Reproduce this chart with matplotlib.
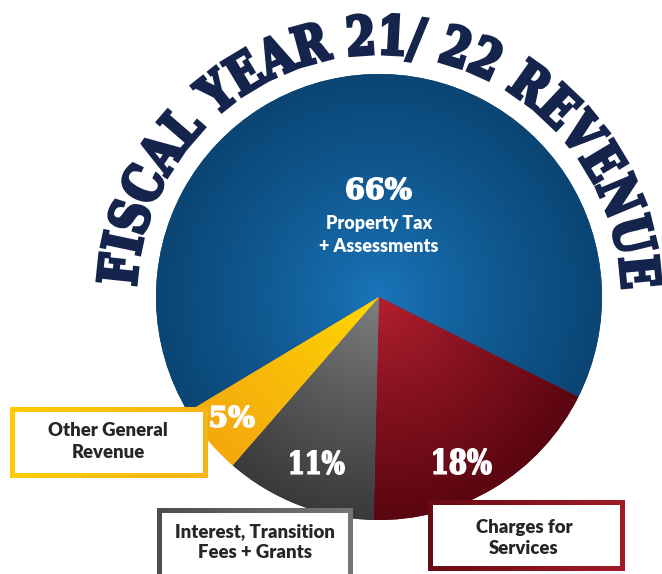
import numpy as np
import matplotlib
matplotlib.use("Agg")
import matplotlib.pyplot as plt
import matplotlib.transforms as mtransforms
from matplotlib.patches import PathPatch, Rectangle
from matplotlib.path import Path
from matplotlib.textpath import TextPath
from matplotlib.font_manager import FontProperties, findfont, get_font
from matplotlib.colors import LinearSegmentedColormap

W, H = 662, 574

###### Data ######
categories = ["Property Tax\n+ Assessments", "Charges for\nServices",
              "Interest, Transition\nFees + Grants", "Other General\nRevenue"]
shares = [66, 18, 11, 5]
pct_labels = [f"{v}%" for v in shares]
title = "FISCAL YEAR 21/ 22 REVENUE"

# slice gradients: light near the centre -> dark at the rim
light = ["#1a76bc", "#b62030", "#828285", "#ffda00"]
dark = ["#0a4574", "#5a0610", "#3a3a3c", "#f4a80e"]
# box border gradients (left -> right)
border = [None, ["#6a0a14", "#a01c28"], ["#4e4e50", "#767678"], ["#ffcc00", "#f7b514"]]

navy = "#15244c"
txt_dark = "#262626"

fig = plt.figure(figsize=(W / 100, H / 100), dpi=100)
ax = fig.add_axes([0, 0, 1, 1])

# pie geometry (pixel space, y up)
cx, cy, R = 379, H - 297, 223
wedges, _ = ax.pie(shares, startangle=211, counterclock=False, center=(cx, cy),
                   radius=R, colors=dark, wedgeprops=dict(linewidth=0))
ax.set_xlim(0, W)
ax.set_ylim(0, H)
ax.axis("off")

# radial gradient fill for each slice
xs = np.linspace(cx - R, cx + R, 500)
ys = np.linspace(cy - R, cy + R, 500)
X, Y = np.meshgrid(xs, ys)
dist = np.clip(np.hypot(X - cx, Y - cy) / R, 0, 1)
for w, c0, c1 in zip(wedges, light, dark):
    cmap = LinearSegmentedColormap.from_list("g", [c0, c1])
    im = ax.imshow(dist ** 0.85, cmap=cmap, vmin=0, vmax=1, origin="lower",
                   extent=(cx - R, cx + R, cy - R, cy + R),
                   interpolation="bilinear", zorder=2, aspect="auto")
    im.set_clip_path(w)


## text drawn as paths, squeezed into a target box
serif = FontProperties(family="DejaVu Serif", weight="bold")

def fit_text(s, xc, yc, w, h, color, z=4, stroke=1.6):
    tp = TextPath((0, 0), s, size=50, prop=serif)
    ext = tp.get_extents()
    # leave room for the stroke so the outer size matches
    tr = (mtransforms.Affine2D()
          .translate(-ext.x0 - ext.width / 2, -ext.y0 - ext.height / 2)
          .scale((w - stroke) / ext.width, (h - stroke) / ext.height)
          .translate(xc, H - yc))
    ax.add_patch(PathPatch(tr.transform_path(tp), fc=color, ec=color,
                           lw=stroke * 0.72, joinstyle="miter", zorder=z))

# percentage labels (centre x, centre y, width, height in pixels)
pct_pos = [(379, 188.5, 66, 23), (462.5, 461.5, 59, 27),
           (317.5, 462.5, 55, 25), (232.5, 416.5, 45, 23)]
for lab, (px, py, pw, ph) in zip(pct_labels, pct_pos):
    fit_text(lab, px, py, pw, ph, "white")

# main slice name inside the blue slice
sans = dict(fontfamily="Lato", fontweight="heavy")
l1, l2 = categories[0].split("\n")
ax.text(379, H - 224, l1, ha="center", va="center", color="white",
        fontsize=13, zorder=4, **sans)
ax.text(379, H - 247, l2, ha="center", va="center", color="white",
        fontsize=13, zorder=4, **sans)


## curved title along an arc
EM = 50
font = get_font(findfont(serif))
font.set_size(EM, 72)
advs = np.array([font.load_char(ord(c)).linearHoriAdvance / 65536 for c in title])
mids = np.cumsum(advs) - advs / 2
cap = TextPath((0, 0), "F", size=EM, prop=serif).get_extents().height

r_base, cap_h = 243, 39
th0, th1 = 174.0, 5.5
sx = np.radians(th0 - th1) * r_base / (mids[-1] - mids[0])
sy = cap_h / cap
for c, a, m in zip(title, advs, mids):
    if c == " ":
        continue
    th = th0 - (m - mids[0]) / (mids[-1] - mids[0]) * (th0 - th1)
    tp = TextPath((0, 0), c, size=EM, prop=serif)
    tr = (mtransforms.Affine2D()
          .translate(-a / 2, 0)
          .scale(sx, sy)
          .rotate_deg(th - 90)
          .translate(cx + r_base * np.cos(np.radians(th)),
                     cy + r_base * np.sin(np.radians(th))))
    ax.add_patch(PathPatch(tr.transform_path(tp), fc=navy, ec=navy, lw=2.4,
                           joinstyle="miter", zorder=3))


## label boxes with gradient borders
def ring_path(x0, y0, x1, y1, t):
    X0, X1, Y0, Y1 = x0, x1, H - y1, H - y0
    outer = [(X0, Y0), (X1, Y0), (X1, Y1), (X0, Y1), (X0, Y0)]
    inner = [(X0 + t, Y0 + t), (X0 + t, Y1 - t), (X1 - t, Y1 - t),
             (X1 - t, Y0 + t), (X0 + t, Y0 + t)]
    codes = ([Path.MOVETO] + [Path.LINETO] * 3 + [Path.CLOSEPOLY]) * 2
    return Path(outer + inner, codes)

# box extents in image pixels: left, top, right, bottom, text centre x, line centres y
boxes = [None,
         (428, 500, 625, 571, 524, (527, 548)),
         (157, 508, 353, 600, 255, (532, 553)),
         (10, 407, 208, 478, 108, (430, 453))]
for i in range(1, 4):
    x0, y0, x1, y1, tx, tys = boxes[i]
    ax.add_patch(Rectangle((x0, H - y1), x1 - x0, y1 - y0, fc="white", lw=0, zorder=5))
    ring = PathPatch(ring_path(x0, y0, x1, y1, 5), fc="none", lw=0, zorder=5)
    ax.add_patch(ring)
    grad = np.tile(np.linspace(0, 1, 200), (20, 1))
    cmap = LinearSegmentedColormap.from_list("b", border[i])
    im = ax.imshow(grad, cmap=cmap, origin="lower", extent=(x0, x1, H - y1, H - y0),
                   interpolation="bilinear", zorder=5.5, aspect="auto")
    im.set_clip_path(ring)
    for line, ty in zip(categories[i].split("\n"), tys):
        ax.text(tx, H - ty, line, ha="center", va="center", color=txt_dark,
                fontsize=13.3, zorder=6, **sans)

ax.set_xlim(0, W)
ax.set_ylim(0, H)
fig.savefig("out.png", dpi=100, facecolor="white")
